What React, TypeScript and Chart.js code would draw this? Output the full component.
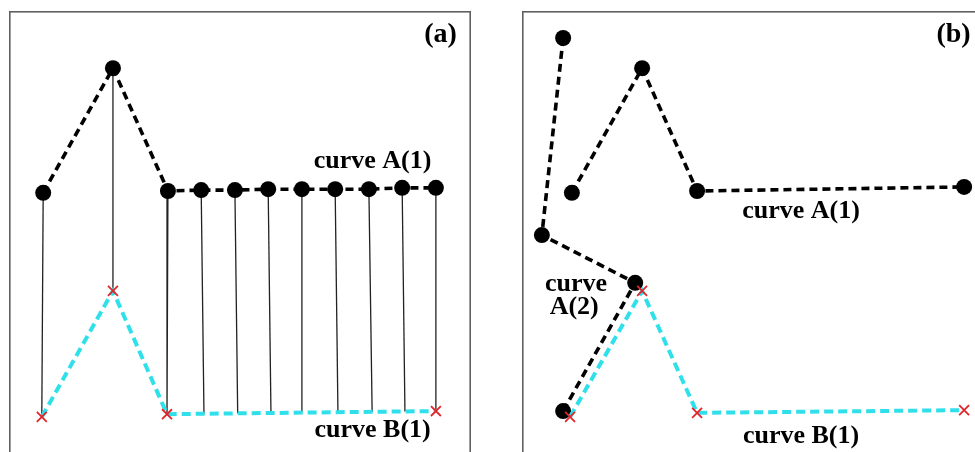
import React, { useEffect, useRef } from "react";
import { Chart, registerables } from "chart.js";

Chart.register(...registerables);

// ---------- Panel (a) data (units: 0..100 on both axes) ----------
const aCurveA_x = [7.4, 22.5, 34.4, 41.6, 48.9, 56.1, 63.4, 70.6, 77.9, 85.1, 92.4];
const aCurveA_y = [59.6, 87.3, 60.0, 60.2, 60.2, 60.4, 60.4, 60.4, 60.4, 60.7, 60.7];
const aCurveB_x = [7.1, 22.5, 34.2, 92.4];
const aCurveB_y = [9.8, 37.8, 10.4, 11.1];
// where each A point's connector meets curve B
const aProj_x = [7.1, 22.5, 34.2, 42.2, 49.5, 56.7, 63.4, 71.2, 78.6, 85.7, 92.4];
const aProj_y = [9.8, 37.8, 10.4, 10.5, 10.6, 10.7, 10.8, 10.8, 10.9, 11.0, 11.1];

// ---------- Panel (b) data ----------
const bCurveA1_x = [10.8, 26.0, 37.9, 95.7];
const bCurveA1_y = [59.6, 87.3, 60.0, 60.9];
const bCurveA2_x = [8.9, 4.3, 24.5, 8.9];
const bCurveA2_y = [94.0, 50.2, 39.6, 11.1];
const bCurveB1_x = [10.4, 26.0, 37.9, 95.7];
const bCurveB1_y = [9.8, 37.8, 10.7, 11.3];

// ---------- Labels ----------
const aLabels = ["curve A(1)", "curve B(1)", "(a)"];
const aLabel_x = [78.7, 78.7, 93.4];
const aLabel_y = [66.5, 6.9, 94.7];
const bLabels = ["curve A(1)", "curve", "A(2)", "curve B(1)", "(b)"];
const bLabel_x = [60.4, 11.7, 11.3, 60.4, 93.4];
const bLabel_y = [55.6, 39.3, 34.2, 5.6, 94.7];

const pts = (xs: number[], ys: number[]) => xs.map((x, i) => ({ x, y: ys[i] }));

const BLACK = "#000000";
const CYAN = "#2fe0ea";
const RED = "#e0262b";

const curveADataset = (data: any[]) => ({
  data,
  showLine: true,
  borderColor: BLACK,
  borderWidth: 3.6,
  borderDash: [8, 5],
  pointRadius: 8,
  pointStyle: "circle",
  pointBackgroundColor: BLACK,
  pointBorderColor: BLACK,
  pointBorderWidth: 0,
  clip: false,
});

const curveBDataset = (data: any[]) => ({
  data,
  showLine: true,
  borderColor: CYAN,
  borderWidth: 4,
  borderDash: [9, 5],
  pointRadius: 7,
  pointStyle: "crossRot",
  pointBackgroundColor: RED,
  pointBorderColor: RED,
  pointBorderWidth: 1.8,
  clip: false,
});

const makePlugins = (labels: string[], lx: number[], ly: number[]) => [
  {
    id: "frameAndLabels",
    afterDraw(chart: any) {
      const { ctx, chartArea, scales } = chart;
      ctx.save();
      ctx.strokeStyle = "#606060";
      ctx.lineWidth = 1.6;
      ctx.strokeRect(chartArea.left + 0.8, chartArea.top + 0.8, chartArea.right - chartArea.left - 1.6, chartArea.bottom - chartArea.top + 10);
      ctx.fillStyle = "#000";
      ctx.textAlign = "center";
      ctx.textBaseline = "middle";
      labels.forEach((t, i) => {
        ctx.font = t.startsWith("(") ? 'bold 28px "Liberation Serif"' : 'bold 26px "Liberation Serif"';
        ctx.fillText(t, scales.x.getPixelForValue(lx[i]), scales.y.getPixelForValue(ly[i]));
      });
      ctx.restore();
    },
  },
];

const baseOptions = {
  animation: false as const,
  responsive: false,
  devicePixelRatio: 1,
  layout: { padding: 0, autoPadding: false },
  plugins: { legend: { display: false }, tooltip: { enabled: false } },
  scales: {
    x: { type: "linear" as const, min: 0, max: 100, display: false },
    y: { type: "linear" as const, min: 0, max: 100, display: false },
  },
};

function Panel({ which, left }: { which: "a" | "b"; left: number }) {
  const ref = useRef<HTMLCanvasElement>(null);
  useEffect(() => {
    if (!ref.current) return;
    let datasets: any[];
    let plugins: any[];
    if (which === "a") {
      const connectors = aCurveA_x.map((x, i) => ({
        data: [
          { x, y: aCurveA_y[i] },
          { x: aProj_x[i], y: aProj_y[i] },
        ],
        showLine: true,
        borderColor: "#222222",
        borderWidth: 1.3,
        pointRadius: 0,
      }));
      datasets = [
        curveBDataset(pts(aCurveB_x, aCurveB_y)),
        curveADataset(pts(aCurveA_x, aCurveA_y)),
        ...connectors,
      ];
      plugins = makePlugins(aLabels, aLabel_x, aLabel_y);
    } else {
      datasets = [
        curveBDataset(pts(bCurveB1_x, bCurveB1_y)),
        curveADataset(pts(bCurveA1_x, bCurveA1_y)),
        curveADataset(pts(bCurveA2_x, bCurveA2_y)),
      ];
      plugins = makePlugins(bLabels, bLabel_x, bLabel_y);
    }
    const chart = new Chart(ref.current, {
      type: "scatter",
      data: { datasets },
      options: baseOptions as any,
      plugins,
    });
    return () => chart.destroy();
  }, [which]);
  return (
    <canvas
      ref={ref}
      width={462}
      height={450}
      style={{ position: "absolute", left, top: 11, width: 462, height: 450 }}
    />
  );
}

export default function App() {
  return (
    <div
      style={{
        position: "fixed",
        left: 0,
        top: 0,
        width: 975,
        height: 452,
        overflow: "hidden",
        background: "#fff",
      }}
    >
      <Panel which="a" left={9} />
      <Panel which="b" left={522} />
    </div>
  );
}
